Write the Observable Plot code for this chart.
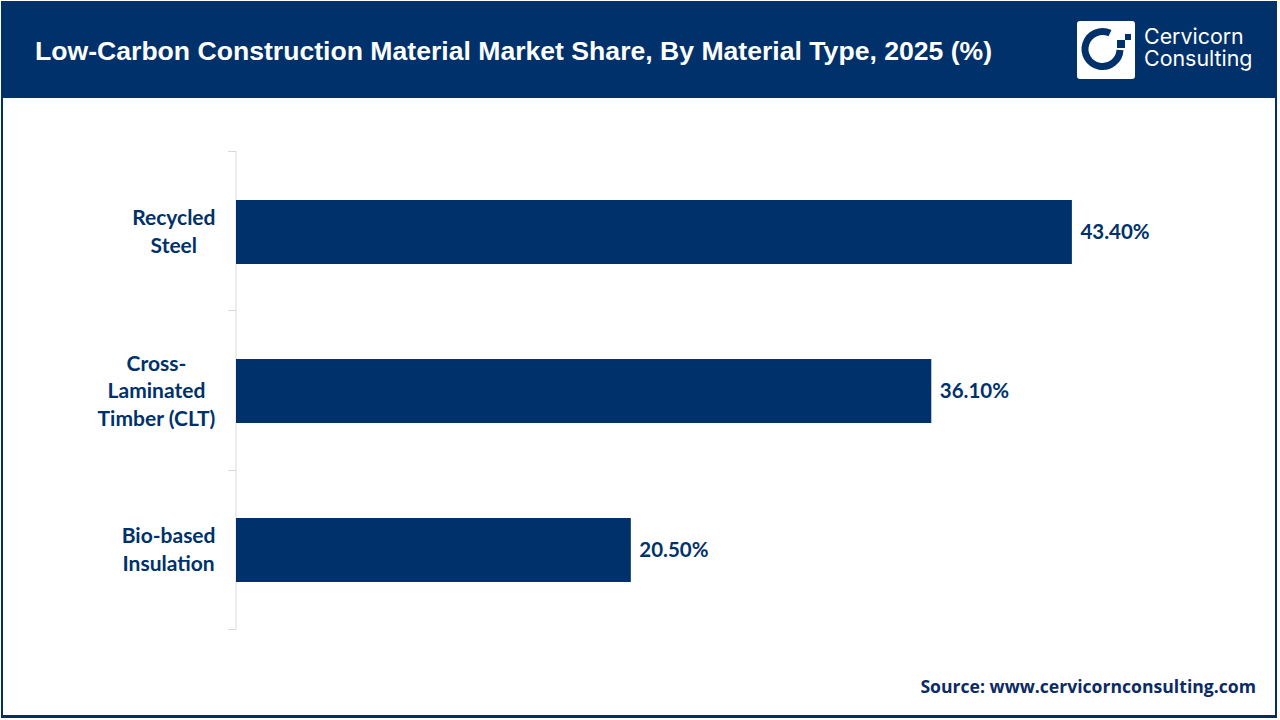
<!DOCTYPE html>
<html>
<head>
<meta charset="utf-8">
<script src="https://cdn.jsdelivr.net/npm/d3@7"></script>
<script src="https://cdn.jsdelivr.net/npm/@observablehq/plot@0.6"></script>
<style>
  html, body { margin: 0; padding: 0; background: #fff; }
  #page { position: relative; width: 1280px; height: 720px; overflow: hidden; background: #fff; }
  #frame { position: absolute; left: 1px; top: 1px; width: 1272px; height: 712px; border: solid #00305f; border-width: 2px 2px 3px 2px; }
  #header { position: absolute; left: 1px; top: 1px; width: 1276px; height: 97px; background: #00316a; }
  #title { position: absolute; left: 35px; top: 34px; color: #fff; font: bold 26.6px/34px "Liberation Sans", sans-serif; white-space: nowrap; }
  #logo { position: absolute; left: 1077px; top: 21px; }
  .brand { position: absolute; left: 1144px; height: 21px; color: #fff; font: 400 21.4px/21px Inter, sans-serif; white-space: nowrap; }
  #source { position: absolute; right: 24px; top: 675px; color: #0c2a63; font: bold 17.6px/22px "Open Sans", sans-serif; white-space: nowrap; }
  #chart { position: absolute; left: 0; top: 0; }
  #chart svg { display: block; }
</style>
</head>
<body>
<div id="page">
  <div id="chart"></div>
  <div id="frame"></div>
  <div id="header"></div>
  <div id="title">Low-Carbon Construction Material Market Share, By Material Type, 2025 (%)</div>
  <svg id="logo" width="58" height="58" viewBox="0 0 58 58">
    <rect width="58" height="58" rx="3" fill="#fff"/>
    <path d="M33 12.2 A 17.5 17.5 0 1 0 43 29" fill="none" stroke="#00316a" stroke-width="7"/>
    <rect x="48" y="13" width="6" height="6" fill="#00316a"/>
    <rect x="40" y="19" width="8" height="8" fill="#00316a"/>
  </svg>
  <div class="brand" style="top:26px">Cervicorn</div>
  <div class="brand" style="top:48px">Consulting</div>
  <div id="source">Source: www.cervicornconsulting.com</div>
</div>
<script>
const materials = ["Recycled Steel", "Cross-Laminated Timber (CLT)", "Bio-based Insulation"];
const materialLines = [["Recycled", "Steel"], ["Cross-", "Laminated", "Timber (CLT)"], ["Bio-based", "Insulation"]];
const shares = [43.4, 36.1, 20.5];
const rows = materials.map((material, i) => ({material, share: shares[i], lines: materialLines[i]}));

const navy = "#00316a";
const font = "Lato, sans-serif";
const labelSize = 21;
const valueSize = 20.5;

const ctx = document.createElement("canvas").getContext("2d");
ctx.font = `bold ${labelSize}px Lato`;
const blockWidth = (lines) => d3.max(lines, (l) => ctx.measureText(l).width);

const categoryLabels = rows.map((r) =>
  Plot.text([r], {
    y: "material",
    text: (d) => d.lines.join("\n"),
    frameAnchor: "left",
    textAnchor: "middle",
    dx: -21 - blockWidth(r.lines) / 2,
    dy: -2,
    lineHeight: 1.33,
    fill: navy,
    fontWeight: "bold",
    fontSize: labelSize
  })
);

// Outward ticks at the band boundaries, placed from the frame dimensions.
function bandTicks(index, scales, values, dim) {
  const inner = dim.height - dim.marginTop - dim.marginBottom;
  const g = d3.create("svg:g").attr("stroke", "#d9d9d9");
  d3.range(materials.length + 1).forEach((i) => {
    const yy = Math.round(dim.marginTop + i * inner / materials.length) + 0.5;
    g.append("line").attr("x1", dim.marginLeft - 8).attr("x2", dim.marginLeft).attr("y1", yy).attr("y2", yy);
  });
  return g.node();
}

const plot = Plot.plot({
  width: 1280,
  height: 720,
  marginTop: 151,
  marginBottom: 91,
  marginLeft: 236,
  marginRight: 81,
  style: {fontFamily: font, background: "transparent"},
  x: {domain: [0, 50], axis: null},
  y: {domain: materials, range: [151.4, 629.4], paddingInner: 0.6, paddingOuter: 0.3, axis: null},
  marks: [
    Plot.ruleX([0], {stroke: "#d9d9d9", strokeWidth: 1, dx: -0.5}),
    bandTicks,
    Plot.barX(rows, {y: "material", x: "share", fill: navy}),
    Plot.text(rows, {
      y: "material",
      x: "share",
      text: (d) => d.share.toFixed(2) + "%",
      textAnchor: "start",
      dx: 8,
      fill: navy,
      fontWeight: "bold",
      fontSize: valueSize
    }),
    ...categoryLabels
  ]
});
document.getElementById("chart").append(plot);
</script>
</body>
</html>
